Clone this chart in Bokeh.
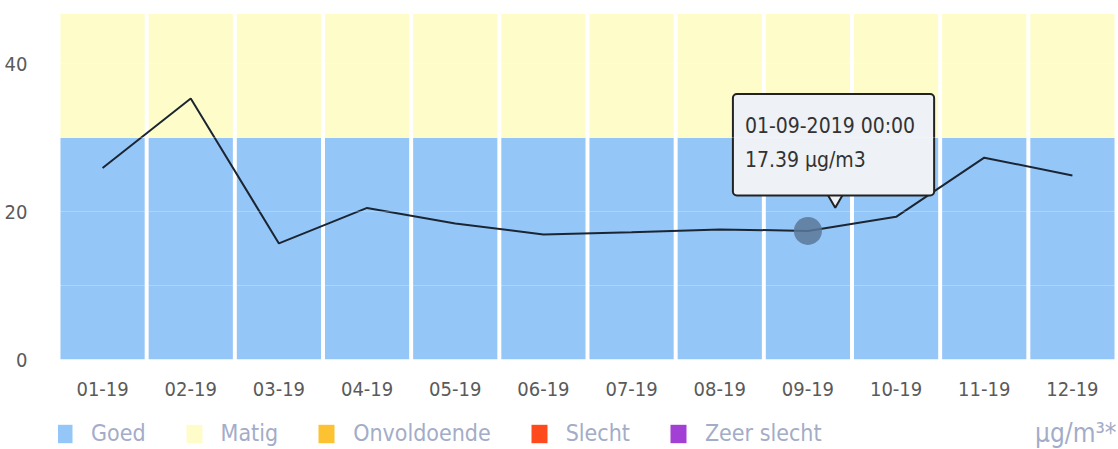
from bokeh.plotting import figure
from bokeh.layouts import column
from bokeh.models import Legend, LegendItem, Label, FixedTicker, FactorRange, Range1d
from bokeh.embed import file_html
from bokeh.resources import INLINE

months = ["01-19", "02-19", "03-19", "04-19", "05-19", "06-19",
          "07-19", "08-19", "09-19", "10-19", "11-19", "12-19"]
values = [25.9, 35.3, 15.7, 20.5, 18.4, 16.9, 17.2, 17.6, 17.39, 19.3, 27.3, 24.9]
band_good_top = 30
y_max = 46.8
legend_names = ["Goed", "Matig", "Onvoldoende", "Slecht", "Zeer slecht"]
legend_colors = ["#94c6f8", "#fefdc9", "#fdc231", "#fe4a1c", "#a23fd4"]
tip_index = 8
tip_text = "01-09-2019 00:00\n17.39 µg/m3"
unit_text = "µg/m³*"

FONT = "DejaVu Sans Condensed"
W = 1116
LEFT = 58

p = figure(x_range=FactorRange(*months), y_range=Range1d(0, y_max),
           width=W, height=408, output_backend="svg", toolbar_location=None,
           min_border_left=LEFT, min_border_right=0, min_border_top=13, min_border_bottom=49)
p.outline_line_color = None
p.background_fill_color = "white"

# bands
p.vbar(x=months, bottom=0, top=band_good_top, width=0.955, color=legend_colors[0], line_color=None)
p.vbar(x=months, bottom=band_good_top, top=y_max, width=0.955, color=legend_colors[1], line_color=None)

p.xgrid.visible = False
p.ygrid.ticker = FixedTicker(ticks=[10, 20, 30, 40])
p.ygrid.grid_line_color = "white"
p.ygrid.grid_line_alpha = 0.25
p.ygrid.level = "overlay"

p.yaxis.ticker = FixedTicker(ticks=[0, 20, 40])
for ax in (p.xaxis, p.yaxis):
    ax.axis_line_color = None
    ax.major_tick_line_color = None
    ax.minor_tick_line_color = None
    ax.major_label_text_color = "#5a5a5a"
    ax.major_label_text_font = FONT
    ax.major_label_text_font_size = "20px"
p.yaxis.major_label_standoff = 25
p.yaxis.major_label_text_align = "right"
p.xaxis.major_label_standoff = 16

p.line(x=months, y=values, line_color="#1c2632", line_width=2)

# highlighted point + tooltip
p.scatter(x=[months[tip_index]], y=[values[tip_index]], size=28, color="#5a7899", alpha=0.85, line_color=None)
p.scatter(x=[tip_index + 0.5 + 0.31], y=[values[tip_index] + 4.7], marker="inverted_triangle",
          size=20, fill_color="#eef1f5", line_color="#222222", line_width=2)

tip = Label(x=tip_index + 0.5, y=values[tip_index], x_offset=-75, y_offset=137,
            text=tip_text, text_font=FONT, text_font_size="21px", text_color="#333333",
            text_line_height=1.4,
            background_fill_color="#eef1f5", background_fill_alpha=1.0,
            border_line_color="#222222", border_line_width=2,
            padding=(12, 19, 20, 24), border_radius=4, text_baseline="top", text_align="left")
p.add_layout(tip)

# legend strip (second figure), frame aligned with the main frame
lf = figure(width=W, height=41, x_range=Range1d(LEFT, W), y_range=Range1d(0, 41),
            output_backend="svg", toolbar_location=None,
            x_axis_location=None, y_axis_location=None,
            min_border_left=0, min_border_right=0, min_border_top=0, min_border_bottom=0)
lf.outline_line_color = None
lf.xgrid.visible = False
lf.ygrid.visible = False
items = []
for name, col in zip(legend_names, legend_colors):
    r = lf.quad(left=[-50], right=[-40], bottom=[-50], top=[-40], color=col, line_color=None)
    items.append(LegendItem(label=name, renderers=[r]))
legend = Legend(items=items, orientation="horizontal", location=(-4, 3),
                label_text_font=FONT, label_text_font_size="23px", label_text_color="#a3acc8",
                glyph_width=20, glyph_height=23, label_standoff=17, spacing=38,
                border_line_color=None, background_fill_alpha=0, padding=0, margin=0)
lf.add_layout(legend)
unit = Label(x=W, y=17, text=unit_text, text_font=FONT, text_font_size="26px",
             text_color="#a3acc8", text_align="right", text_baseline="middle")
lf.add_layout(unit)

open("out.html", "w").write(file_html(column(p, lf), INLINE))
